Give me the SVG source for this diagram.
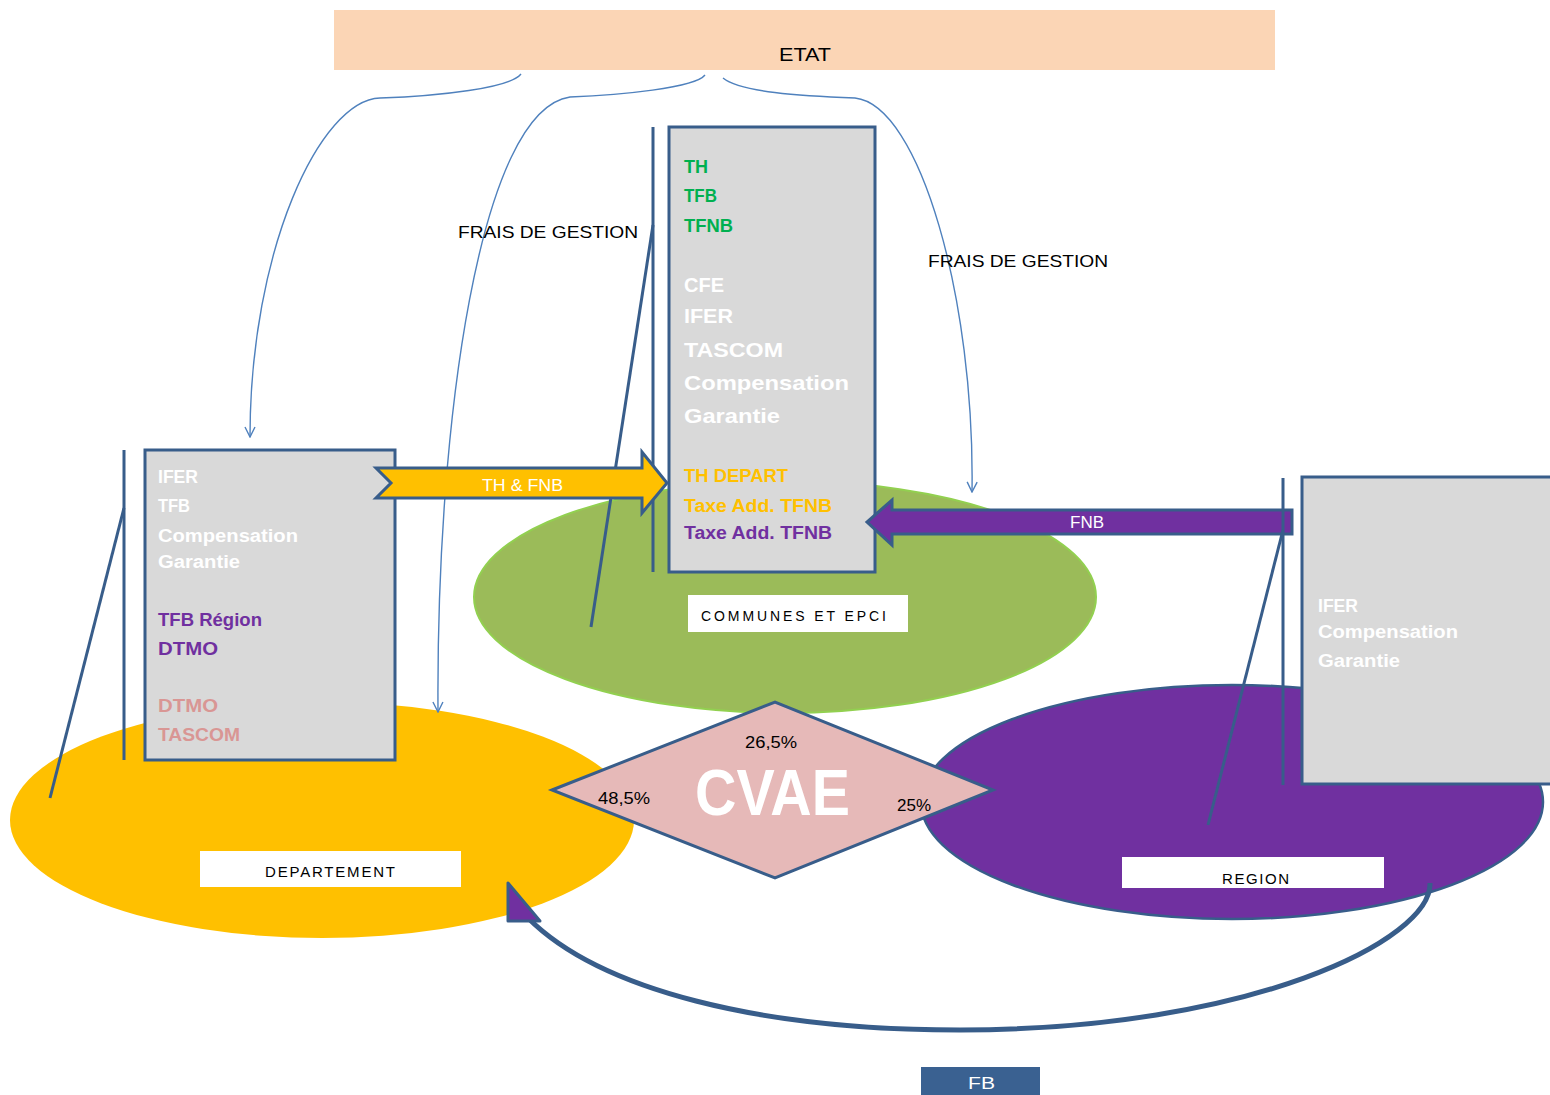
<svg xmlns="http://www.w3.org/2000/svg" width="1550" height="1095" viewBox="0 0 1550 1095">
<style>
.lbl{font-family:"Liberation Sans",Arial,sans-serif;fill:#000}
.lst{font-family:"Liberation Sans",Arial,sans-serif;font-weight:bold;font-size:18px}
.big{font-size:21px}
.w{fill:#fff}.g{fill:#00B050}.o{fill:#FFC000}.p{fill:#7030A0}.k{fill:#D99694}
.box{fill:#D9D9D9;stroke:#385D8A;stroke-width:3}
.thin{fill:none;stroke:#4F81BD;stroke-width:1.4;marker-end:url(#v)}
.dark{fill:none;stroke:#385D8A;stroke-width:3}
.tag{fill:#fff}
.wt{font-family:"Liberation Sans",Arial,sans-serif;fill:#fff}
</style>
<defs>
<marker id="v" viewBox="0 0 12 12" refX="11" refY="6" markerWidth="12" markerHeight="12" markerUnits="userSpaceOnUse" orient="auto">
<path d="M1 1 L11 6 L1 11" fill="none" stroke="#4F81BD" stroke-width="1.4"/>
</marker>
</defs>
<rect width="1550" height="1095" fill="#fff"/>

<g id="etat">
<rect x="334" y="10" width="941" height="60" fill="#FBD5B5"/>
<text class="lbl" x="779" y="61" font-size="18" textLength="52" lengthAdjust="spacingAndGlyphs">ETAT</text>
</g>

<g id="communes">
<ellipse cx="785" cy="597" rx="311" ry="116" fill="#9BBB59" stroke="#92D050" stroke-width="2"/>
<rect class="tag" x="688" y="595" width="220" height="37"/>
<text class="lbl" x="701" y="621" font-size="14" textLength="185" lengthAdjust="spacing">COMMUNES  ET  EPCI</text>
</g>

<g id="departement">
<ellipse cx="322" cy="820" rx="312" ry="118" fill="#FFC000"/>
<rect class="tag" x="200" y="851" width="261" height="36"/>
<text class="lbl" x="265" y="877" font-size="15" textLength="130" lengthAdjust="spacing">DEPARTEMENT</text>
</g>

<g id="region">
<ellipse cx="1232" cy="802" rx="311" ry="117" fill="#7030A0" stroke="#385D8A" stroke-width="2.5"/>
<rect class="tag" x="1122" y="857" width="262" height="31"/>
<text class="lbl" x="1222" y="884" font-size="15" textLength="67" lengthAdjust="spacing">REGION</text>
</g>

<g id="communes-box">
<rect class="box" x="669" y="127" width="206" height="445"/>
<text class="lst g" x="684" y="173" textLength="24" lengthAdjust="spacingAndGlyphs">TH</text>
<text class="lst g" x="684" y="202" textLength="33" lengthAdjust="spacingAndGlyphs">TFB</text>
<text class="lst g" x="684" y="232" textLength="49" lengthAdjust="spacingAndGlyphs">TFNB</text>
<text class="lst big w" x="684" y="292" textLength="40" lengthAdjust="spacingAndGlyphs">CFE</text>
<text class="lst big w" x="684" y="323" textLength="49" lengthAdjust="spacingAndGlyphs">IFER</text>
<text class="lst big w" x="684" y="357" textLength="99" lengthAdjust="spacingAndGlyphs">TASCOM</text>
<text class="lst big w" x="684" y="390" textLength="165" lengthAdjust="spacingAndGlyphs">Compensation</text>
<text class="lst big w" x="684" y="423" textLength="96" lengthAdjust="spacingAndGlyphs">Garantie</text>
<text class="lst o" x="684" y="482" textLength="104" lengthAdjust="spacingAndGlyphs">TH DEPART</text>
<text class="lst o" x="684" y="512" textLength="148" lengthAdjust="spacingAndGlyphs">Taxe Add. TFNB</text>
<text class="lst p" x="684" y="539" textLength="148" lengthAdjust="spacingAndGlyphs">Taxe Add. TFNB</text>
</g>

<g id="departement-box">
<rect class="box" x="145" y="450" width="250" height="310"/>
<text class="lst w" x="158" y="483" textLength="40" lengthAdjust="spacingAndGlyphs">IFER</text>
<text class="lst w" x="158" y="512" textLength="32" lengthAdjust="spacingAndGlyphs">TFB</text>
<text class="lst w" x="158" y="542" textLength="140" lengthAdjust="spacingAndGlyphs">Compensation</text>
<text class="lst w" x="158" y="568" textLength="82" lengthAdjust="spacingAndGlyphs">Garantie</text>
<text class="lst p" x="158" y="626" textLength="104" lengthAdjust="spacingAndGlyphs">TFB Région</text>
<text class="lst p" x="158" y="655" textLength="60" lengthAdjust="spacingAndGlyphs">DTMO</text>
<text class="lst k" x="158" y="712" textLength="60" lengthAdjust="spacingAndGlyphs">DTMO</text>
<text class="lst k" x="158" y="741" textLength="82" lengthAdjust="spacingAndGlyphs">TASCOM</text>
</g>

<g id="region-box">
<rect class="box" x="1302" y="477" width="260" height="307"/>
<text class="lst w" x="1318" y="612" textLength="40" lengthAdjust="spacingAndGlyphs">IFER</text>
<text class="lst w" x="1318" y="638" textLength="140" lengthAdjust="spacingAndGlyphs">Compensation</text>
<text class="lst w" x="1318" y="667" textLength="82" lengthAdjust="spacingAndGlyphs">Garantie</text>
</g>

<g id="cvae">
<polygon points="552,790 775,702 993,790 775,878" fill="#E6B9B8" stroke="#385D8A" stroke-width="3"/>
<text x="695" y="815" font-family="Liberation Sans,Arial,sans-serif" font-weight="bold" font-size="64" fill="#fff" textLength="155" lengthAdjust="spacingAndGlyphs">CVAE</text>
<text class="lbl" x="745" y="748" font-size="16" textLength="52" lengthAdjust="spacingAndGlyphs">26,5%</text>
<text class="lbl" x="598" y="804" font-size="16" textLength="52" lengthAdjust="spacingAndGlyphs">48,5%</text>
<text class="lbl" x="897" y="811" font-size="16" textLength="34" lengthAdjust="spacingAndGlyphs">25%</text>
</g>

<g id="fb">
<rect x="921" y="1067" width="119" height="28" fill="#3A6191"/>
<text class="wt" x="968" y="1089" font-size="17" textLength="27" lengthAdjust="spacingAndGlyphs">FB</text>
</g>

<g id="connectors">
<path class="thin" d="M521 74 C510 88 440 96 380 98 C320 100 250 250 250 437"/>
<path class="thin" d="M705 75 C695 88 620 95 570 97 C480 110 436 420 438 712"/>
<path class="thin" d="M723 78 C740 92 800 96 855 98 C920 105 975 300 972 492"/>
<text class="lbl" x="458" y="238" font-size="17" textLength="180" lengthAdjust="spacingAndGlyphs">FRAIS DE GESTION</text>
<text class="lbl" x="928" y="267" font-size="17" textLength="180" lengthAdjust="spacingAndGlyphs">FRAIS DE GESTION</text>

<line class="dark" x1="124" y1="450" x2="124" y2="760"/>
<line class="dark" x1="124" y1="508" x2="50" y2="798"/>
<line class="dark" x1="653" y1="127" x2="653" y2="572"/>
<line class="dark" x1="653" y1="225" x2="591" y2="627"/>

<g id="arrow-th-fnb">
<polygon points="376,468 642,468 642,452 667,483 642,513 642,498 376,498 391,483" fill="#FFC000" stroke="#385D8A" stroke-width="3" stroke-linejoin="miter"/>
<text class="wt" x="482" y="491" font-size="16" textLength="81" lengthAdjust="spacingAndGlyphs">TH &amp; FNB</text>
</g>

<g id="arrow-fnb">
<polygon points="1292,510 892,510 892,500 867,522 892,545 892,534 1292,534" fill="#7030A0" stroke="#385D8A" stroke-width="3"/>
<text class="wt" x="1070" y="528" font-size="16" textLength="34" lengthAdjust="spacingAndGlyphs">FNB</text>
</g>

<line class="dark" x1="1283" y1="478" x2="1283" y2="785"/>
<line class="dark" x1="1283" y1="530" x2="1208" y2="825"/>

<path d="M1430 883 C1432 940 1250 1030 960 1030 C760 1030 600 990 528 918" fill="none" stroke="#385D8A" stroke-width="5"/>
<polygon points="508,883 508,921 540,921" fill="#7030A0" stroke="#385D8A" stroke-width="3" stroke-linejoin="round"/>
</g>
</svg>
